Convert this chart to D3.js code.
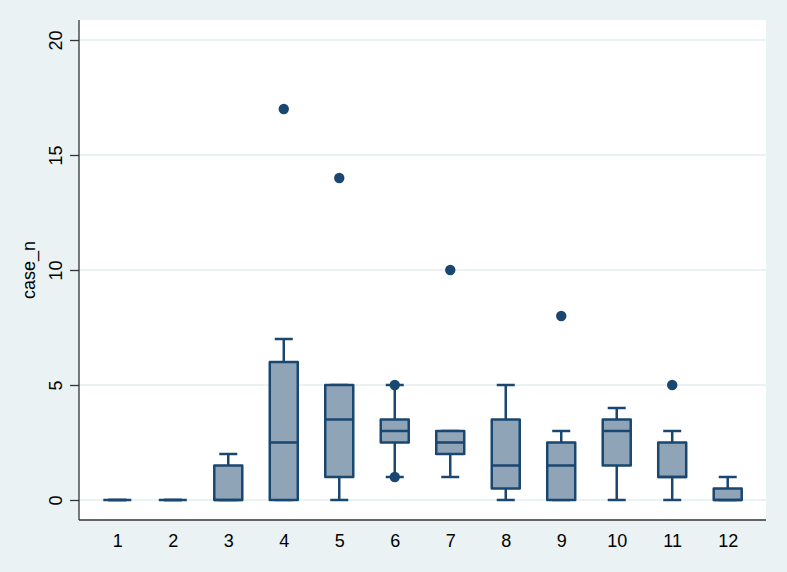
<!DOCTYPE html>
<html>
<head>
<meta charset="utf-8">
<script src="https://cdn.jsdelivr.net/npm/d3@7"></script>
<style>
  body { margin: 0; background: #eaf2f3; }
  svg { display: block; font-family: Arial, "Liberation Sans", sans-serif; }
</style>
</head>
<body>
<div id="chart"></div>
<script>
const groups = [1, 2, 3, 4, 5, 6, 7, 8, 9, 10, 11, 12];
const lowerWhisker = [0, 0, 0, 0, 0, 1, 1, 0, 0, 0, 0, 0];
const q1 = [0, 0, 0, 0, 1, 2.5, 2, 0.5, 0, 1.5, 1, 0];
const median = [0, 0, 0, 2.5, 3.5, 3, 2.5, 1.5, 1.5, 3, 1, 0];
const q3 = [0, 0, 1.5, 6, 5, 3.5, 3, 3.5, 2.5, 3.5, 2.5, 0.5];
const upperWhisker = [0, 0, 2, 7, 5, 5, 3, 5, 3, 4, 3, 1];
const outliers = [[], [], [], [17], [14], [5, 1], [10], [], [8], [], [5], []];
const yTicks = [0, 5, 10, 15, 20];

const W = 787, H = 572;
const plot = { left: 79, right: 766, top: 20, bottom: 520 };
const navy = "#1a476f";
const boxFill = "#8fa4b7";

const svg = d3.select("#chart").append("svg")
  .attr("width", W)
  .attr("height", H);

svg.append("rect").attr("width", W).attr("height", H).attr("fill", "#eaf2f3");
svg.append("rect")
  .attr("x", plot.left).attr("y", plot.top)
  .attr("width", plot.right - plot.left).attr("height", plot.bottom - plot.top)
  .attr("fill", "#ffffff");

const x = d3.scalePoint()
  .domain(groups)
  .range([plot.left, plot.right])
  .padding(0.69);

const y = d3.scaleLinear()
  .domain([-0.87, 20.87])
  .range([plot.bottom, plot.top]);

// grid lines
svg.append("g")
  .selectAll("line")
  .data(yTicks)
  .enter().append("line")
  .attr("x1", plot.left)
  .attr("x2", plot.right)
  .attr("y1", d => y(d))
  .attr("y2", d => y(d))
  .attr("stroke", "#e4eef0")
  .attr("stroke-width", 1.6);

// y axis
const yAxis = svg.append("g")
  .attr("transform", `translate(${plot.left},0)`)
  .call(d3.axisLeft(y).tickValues(yTicks).tickSize(9).tickPadding(0).tickFormat(d3.format("d")));
yAxis.select(".domain").attr("d", `M0,${plot.top}V${plot.bottom}`).attr("stroke", "#333").attr("stroke-width", 1.3);
yAxis.selectAll(".tick line").attr("stroke", "#333").attr("stroke-width", 1.3);
yAxis.selectAll(".tick text")
  .attr("x", 0).attr("y", 0)
  .attr("transform", "translate(-17,0) rotate(-90)")
  .attr("text-anchor", "middle")
  .attr("dy", 0)
  .style("font-size", "18px")
  .attr("fill", "#000");

// x axis
const xAxis = svg.append("g")
  .attr("transform", `translate(0,${plot.bottom})`)
  .call(d3.axisBottom(x).tickSize(0).tickPadding(0));
xAxis.select(".domain").attr("d", `M${plot.left},0H${plot.right}`).attr("stroke", "#333").attr("stroke-width", 1.3);
xAxis.selectAll(".tick text")
  .attr("y", 27)
  .attr("dy", 0)
  .style("font-size", "18px")
  .attr("fill", "#000");

svg.append("text")
  .attr("transform", `translate(35,${(plot.top + plot.bottom) / 2}) rotate(-90)`)
  .attr("text-anchor", "middle")
  .style("font-size", "18px")
  .text("case_n");

const boxW = 28, capW = 18;
const data = groups.map((g, i) => ({
  g, lo: lowerWhisker[i], q1: q1[i], med: median[i], q3: q3[i], hi: upperWhisker[i], out: outliers[i]
}));

const boxes = svg.append("g").selectAll("g")
  .data(data)
  .enter().append("g")
  .attr("transform", d => `translate(${x(d.g)},0)`);

// whiskers
boxes.append("line")
  .attr("x1", 0).attr("x2", 0)
  .attr("y1", d => y(d.q3)).attr("y2", d => y(d.hi))
  .attr("stroke", navy).attr("stroke-width", 2.5);
boxes.append("line")
  .attr("x1", 0).attr("x2", 0)
  .attr("y1", d => y(d.q1)).attr("y2", d => y(d.lo))
  .attr("stroke", navy).attr("stroke-width", 2.5);
boxes.append("line")
  .attr("x1", -capW / 2).attr("x2", capW / 2)
  .attr("y1", d => y(d.hi)).attr("y2", d => y(d.hi))
  .attr("stroke", navy).attr("stroke-width", 2.5);
boxes.append("line")
  .attr("x1", -capW / 2).attr("x2", capW / 2)
  .attr("y1", d => y(d.lo)).attr("y2", d => y(d.lo))
  .attr("stroke", navy).attr("stroke-width", 2.5);

// box
boxes.append("rect")
  .attr("x", -boxW / 2)
  .attr("width", boxW)
  .attr("y", d => y(d.q3))
  .attr("height", d => y(d.q1) - y(d.q3))
  .attr("fill", boxFill)
  .attr("stroke", navy)
  .attr("stroke-width", 2.5)
  .attr("stroke-linejoin", "round");

boxes.append("line")
  .attr("x1", -boxW / 2).attr("x2", boxW / 2)
  .attr("y1", d => y(d.med)).attr("y2", d => y(d.med))
  .attr("stroke", navy).attr("stroke-width", 2.5);

// outliers
boxes.selectAll("circle")
  .data(d => d.out)
  .enter().append("circle")
  .attr("cx", 0)
  .attr("cy", d => y(d))
  .attr("r", 5.2)
  .attr("fill", navy);
</script>
</body>
</html>
